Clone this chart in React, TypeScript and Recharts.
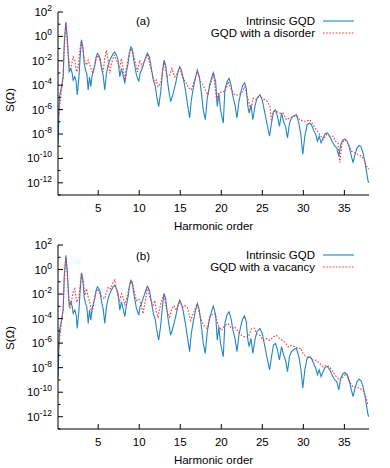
import { LineChart, Line, XAxis, YAxis } from 'recharts';

const harmonicTicks = [5, 10, 15, 20, 25, 30, 35];
const decadeTicks = [-13, -12, -11, -10, -9, -8, -7, -6, -5, -4, -3, -2, -1, 0, 1, 2];

// log10 S(Ω); intrinsic GQD is the same curve in both panels
const intrinsicX = [
  0.12, 0.2, 0.3, 0.53, 0.73, 0.86, 1.06, 1.22, 1.34, 1.46,
  1.67, 1.83, 1.95, 2.15, 2.32, 2.44, 2.64, 2.8, 2.96, 3.13,
  3.29, 3.45, 3.61, 3.78, 3.94, 4.1, 4.26, 4.42, 4.59, 4.75,
  4.91, 5.07, 5.24, 5.4, 5.6, 5.8, 6.0, 6.21, 6.41, 6.61,
  6.82, 7.02, 7.22, 7.42, 7.63, 7.83, 8.03, 8.24, 8.44, 8.64,
  8.8, 8.97, 9.13, 9.37, 9.66, 9.94, 10.1, 10.35, 10.67, 10.99,
  11.24, 11.48, 11.72, 11.97, 12.13, 12.37, 12.62, 12.82, 13.02, 13.22,
  13.43, 13.59, 13.83, 14.03, 14.24, 14.48, 14.72, 14.93, 15.13, 15.37,
  15.62, 15.86, 16.14, 16.35, 16.59, 16.83, 17.08, 17.32, 17.56, 17.8,
  18.05, 18.29, 18.58, 18.86, 19.02, 19.31, 19.51, 19.71, 19.91, 20.24,
  20.44, 20.69, 20.94, 21.18, 21.42, 21.67, 21.91, 22.15, 22.4, 22.64,
  22.84, 23.04, 23.24, 23.4, 23.61, 23.85, 24.09, 24.34, 24.7, 24.99,
  25.31, 25.59, 25.88, 26.12, 26.36, 26.61, 26.85, 27.09, 27.34, 27.58,
  27.82, 28.07, 28.31, 28.55, 28.88, 29.16, 29.45, 29.69, 29.93, 30.18,
  30.46, 30.74, 30.99, 31.23, 31.51, 31.72, 31.92, 32.16, 32.41, 32.65,
  32.94, 33.22, 33.5, 33.83, 34.07, 34.32, 34.56, 34.81, 35.05, 35.33,
  35.62, 35.85, 36.06, 36.3, 36.54, 36.79, 37.03, 37.27, 37.52, 37.72,
  37.88, 38.0,
];
const intrinsicLog = [
  -8.8, -6.5, -4.9, -4.12, -3.3, -0.6, 1.17, -0.05, -1.41, -2.9,
  -2.63, -3.03, -3.58, -3.31, -3.71, -4.8, -3.44, -1.68, -0.27, -0.87,
  -2.22, -2.76, -3.04, -4.39, -3.31, -4.12, -3.17, -2.76, -2.36, -1.68,
  -1.41, -1.54, -1.82, -2.63, -3.17, -4.39, -3.04, -2.36, -1.95, -1.68,
  -1.41, -1.27, -1.54, -1.95, -3.31, -2.63, -3.17, -3.85, -2.9, -2.22,
  -1.41, -0.87, -1.0, -2.09, -3.17, -3.71, -3.04, -2.63, -1.95, -1.36,
  -1.68, -2.63, -3.58, -4.12, -4.93, -5.75, -4.53, -3.04, -1.95, -2.36,
  -3.58, -4.39, -5.34, -4.93, -4.39, -3.71, -2.9, -2.49, -2.76, -3.44,
  -4.39, -5.47, -6.69, -5.2, -4.25, -3.44, -2.76, -3.31, -4.53, -6.02,
  -6.83, -5.07, -3.98, -3.31, -2.98, -3.71, -5.75, -4.66, -6.02, -7.1,
  -4.39, -3.71, -3.44, -3.98, -4.93, -5.61, -6.69, -5.34, -4.53, -3.98,
  -3.79, -4.25, -5.75, -6.29, -5.61, -6.83, -5.75, -5.07, -4.8, -5.2,
  -6.29, -7.24, -8.18, -7.1, -6.15, -6.02, -6.56, -7.37, -6.29, -6.96,
  -7.37, -8.32, -7.1, -6.69, -6.5, -6.42, -7.1, -8.05, -9.67, -8.18,
  -7.24, -7.1, -7.24, -7.64, -8.05, -8.59, -8.18, -8.73, -8.32, -7.97,
  -7.91, -8.18, -8.59, -9.0, -9.13, -9.81, -8.86, -8.51, -8.4, -8.59,
  -9.13, -9.81, -10.35, -9.67, -9.13, -8.94, -9.05, -9.54, -10.35, -11.17,
  -11.84, -12.0,
];

const disorderX = [
  0.12, 0.21, 0.53, 0.73, 0.86, 1.06, 1.22, 1.34, 1.55, 1.75,
  1.95, 2.15, 2.36, 2.56, 2.72, 2.88, 3.09, 3.29, 3.57, 3.78,
  3.98, 4.18, 4.38, 4.59, 4.91, 5.2, 5.4, 5.6, 5.8, 6.0,
  6.21, 6.41, 6.61, 6.94, 7.22, 7.42, 7.63, 7.83, 8.03, 8.24,
  8.44, 8.72, 8.97, 9.21, 9.45, 9.78, 10.06, 10.34, 10.67, 10.99,
  11.4, 11.68, 11.89, 12.09, 12.29, 12.62, 12.82, 13.02, 13.43, 13.71,
  13.99, 14.32, 14.64, 14.93, 15.33, 15.62, 15.94, 16.35, 16.67, 17.08,
  17.48, 17.77, 18.05, 18.37, 18.78, 19.1, 19.23, 19.43, 19.63, 20.04,
  20.44, 20.85, 21.25, 21.66, 22.07, 22.47, 22.88, 23.28, 23.61, 23.89,
  24.3, 24.7, 24.99, 25.31, 25.63, 25.92, 26.12, 26.32, 26.73, 27.13,
  27.54, 27.94, 28.35, 28.76, 29.16, 29.57, 29.97, 30.38, 30.78, 31.19,
  31.59, 32.0, 32.41, 32.81, 33.22, 33.62, 33.91, 34.23, 34.43, 34.72,
  35.12, 35.53, 35.85, 36.26, 36.67, 37.07, 37.39, 37.68, 37.96,
];
const disorderLog = [
  -6.6, -6.29, -4.39, -3.3, -0.87, 1.03, -0.19, -1.41, -2.63, -2.36,
  -1.68, -1.95, -2.9, -2.49, -1.41, -0.46, -0.87, -1.82, -2.36, -1.95,
  -2.36, -2.76, -3.04, -2.22, -1.54, -1.95, -2.49, -2.9, -1.82, -1.14,
  -1.95, -3.04, -2.22, -1.54, -1.95, -2.22, -2.49, -1.82, -2.63, -3.58,
  -2.63, -1.54, -1.0, -1.27, -1.95, -2.9, -1.95, -2.49, -1.95, -1.41,
  -2.63, -3.31, -3.85, -3.58, -4.12, -3.85, -2.9, -2.09, -3.31, -3.17,
  -2.63, -3.31, -3.04, -2.63, -3.44, -3.71, -4.12, -4.39, -3.71, -2.9,
  -3.71, -3.98, -4.39, -4.8, -3.58, -3.17, -4.12, -5.2, -4.66, -4.53,
  -4.53, -3.71, -4.39, -4.8, -4.8, -4.66, -4.12, -5.2, -6.02, -5.07,
  -5.2, -4.8, -5.07, -5.2, -5.34, -5.75, -6.96, -6.15, -6.15, -6.29,
  -6.29, -6.83, -6.69, -6.56, -6.5, -6.83, -6.96, -6.96, -6.83, -7.24,
  -7.64, -8.05, -8.46, -8.05, -8.18, -8.18, -8.59, -8.73, -10.35, -8.73,
  -8.46, -8.86, -9.4, -9.54, -9.67, -9.81, -10.08, -10.62, -10.89,
];

const vacancyX = [
  0.12, 0.21, 0.53, 0.73, 0.86, 1.06, 1.22, 1.34, 1.55, 1.75,
  1.95, 2.15, 2.36, 2.64, 2.8, 2.96, 3.17, 3.37, 3.57, 3.78,
  3.98, 4.18, 4.38, 4.59, 4.91, 5.2, 5.48, 5.8, 6.0, 6.21,
  6.53, 6.82, 7.02, 7.22, 7.42, 7.63, 7.83, 8.03, 8.24, 8.56,
  8.76, 8.97, 9.21, 9.45, 9.66, 9.94, 10.26, 10.47, 10.75, 10.99,
  11.4, 11.68, 11.89, 12.09, 12.29, 12.62, 13.02, 13.31, 13.71, 13.91,
  14.24, 14.52, 14.93, 15.33, 15.53, 15.86, 16.27, 16.55, 17.08, 17.48,
  17.89, 18.29, 18.58, 18.98, 19.23, 19.63, 20.04, 20.44, 20.85, 21.25,
  21.66, 22.07, 22.47, 22.88, 23.28, 23.69, 24.01, 24.3, 24.7, 25.11,
  25.51, 25.92, 26.32, 26.73, 27.13, 27.42, 27.74, 28.15, 28.55, 28.96,
  29.36, 29.69, 29.97, 30.38, 30.78, 31.19, 31.59, 32.0, 32.41, 32.81,
  33.22, 33.62, 34.03, 34.43, 34.84, 35.25, 35.65, 36.06, 36.47, 36.87,
  37.27, 37.56, 37.88,
];
const vacancyLog = [
  -7.0, -6.18, -4.28, -3.2, -0.76, 1.0, -0.22, -1.84, -3.2, -2.52,
  -1.84, -1.57, -2.66, -2.38, -1.3, -0.35, -0.89, -2.11, -1.57, -2.25,
  -2.66, -3.6, -3.06, -2.11, -1.57, -1.98, -2.25, -2.38, -1.84, -1.44,
  -1.57, -1.03, -0.84, -1.57, -2.25, -2.52, -1.98, -2.25, -2.93, -2.11,
  -1.44, -0.98, -1.17, -1.98, -2.52, -2.38, -2.93, -3.6, -2.52, -1.44,
  -2.52, -2.9, -2.52, -3.47, -3.88, -2.79, -1.98, -3.2, -3.88, -3.33,
  -2.93, -3.33, -2.66, -3.06, -2.93, -3.06, -4.15, -3.6, -2.79, -4.01,
  -4.55, -4.82, -3.88, -3.6, -3.6, -4.55, -4.96, -4.55, -4.42, -4.82,
  -4.69, -5.09, -5.37, -5.5, -5.5, -4.82, -4.77, -5.23, -5.37, -5.77,
  -5.64, -5.77, -5.5, -5.37, -5.64, -5.77, -5.91, -6.31, -6.18, -6.31,
  -6.45, -6.4, -6.86, -7.13, -7.13, -7.4, -7.4, -7.67, -7.94, -7.8,
  -7.94, -8.35, -8.75, -9.02, -8.75, -8.48, -9.16, -9.57, -9.57, -9.7,
  -9.84, -10.24, -11.06,
];

const FONT = '"Liberation Sans", Arial, Helvetica, sans-serif';
const BLUE = '#2285c4';
const RED = '#f03a3a';
const W = 390;
const H = 234;
const PLOT_LEFT = 58;
const PLOT_RIGHT = 369;
const X_DOMAIN = [0.1, 38];
const Y_DOMAIN = [-13, 2];

function toPoints(xs: number[], ys: number[]) {
  return xs.map((h, i) => ({ h, s: ys[i] }));
}

const intrinsic = toPoints(intrinsicX, intrinsicLog);
const disorder = toPoints(disorderX, disorderLog);
const vacancy = toPoints(vacancyX, vacancyLog);

// eslint-disable-next-line @typescript-eslint/no-explicit-any
function BottomTick({ x, y, payload }: any) {
  return (
    <g>
      <line x1={x} x2={x} y1={y} y2={y - 5} stroke="#000" />
      <text x={x} y={y + 17} textAnchor="middle" fontSize={11.5} fontFamily={FONT} fill="#000">
        {payload.value}
      </text>
    </g>
  );
}

// eslint-disable-next-line @typescript-eslint/no-explicit-any
function TopTick({ x, y }: any) {
  return <line x1={x} x2={x} y1={y} y2={y + 5} stroke="#000" />;
}

// eslint-disable-next-line @typescript-eslint/no-explicit-any
function LeftTick({ x, y, payload }: any) {
  const n = payload.value as number;
  const major = n % 2 === 0;
  return (
    <g>
      <line x1={x} x2={x + (major ? 5 : 2.5)} y1={y} y2={y} stroke="#000" />
      {major && (
        <text x={x - 6} y={y + 4} textAnchor="end" fontSize={11.5} fontFamily={FONT} fill="#000">
          <tspan>10</tspan>
          <tspan dy={-5} fontSize={8.5}>{n}</tspan>
        </text>
      )}
    </g>
  );
}

// eslint-disable-next-line @typescript-eslint/no-explicit-any
function RightTick({ x, y, payload }: any) {
  const major = (payload.value as number) % 2 === 0;
  return <line x1={x} x2={x - (major ? 5 : 2.5)} y1={y} y2={y} stroke="#000" />;
}

interface PanelProps {
  tag:       string;
  otherName: string;
  other:     { h: number; s: number }[];
  top:       number;
  labelY:    number;
  tagY:      number;
}

function Panel({ tag, otherName, other, top, labelY, tagY }: PanelProps) {
  return (
    <div style={{ position: 'relative', width: W, height: H }}>
      <LineChart width={W} height={H} margin={{ top, right: W - PLOT_RIGHT, bottom: 0, left: 0 }}>
        <XAxis
          xAxisId="b" dataKey="h" type="number" domain={X_DOMAIN} ticks={harmonicTicks}
          allowDataOverflow interval={0} height={39} tickSize={0} tickMargin={0} tickLine={false}
          axisLine={{ stroke: '#000' }} tick={<BottomTick />}
        />
        <XAxis
          xAxisId="t" orientation="top" dataKey="h" type="number" domain={X_DOMAIN} ticks={harmonicTicks}
          allowDataOverflow interval={0} height={0} tickSize={0} tickMargin={0} tickLine={false}
          axisLine={{ stroke: '#000' }} tick={<TopTick />}
        />
        <YAxis
          yAxisId="l" type="number" domain={Y_DOMAIN} ticks={decadeTicks}
          allowDataOverflow interval={0} width={PLOT_LEFT} tickSize={0} tickMargin={0} tickLine={false}
          axisLine={{ stroke: '#000' }} tick={<LeftTick />}
        />
        <YAxis
          yAxisId="r" orientation="right" type="number" domain={Y_DOMAIN} ticks={decadeTicks}
          allowDataOverflow interval={0} width={0} tickSize={0} tickMargin={0} tickLine={false}
          axisLine={{ stroke: '#000' }} tick={<RightTick />}
        />
        <Line
          xAxisId="b" yAxisId="l" data={intrinsic} dataKey="s" type="linear"
          stroke={BLUE} strokeWidth={1.1} dot={false} isAnimationActive={false}
        />
        <Line
          xAxisId="b" yAxisId="l" data={other} dataKey="s" type="linear"
          stroke={RED} strokeWidth={1.1} strokeDasharray="1.6 1.6" dot={false} isAnimationActive={false}
        />
      </LineChart>

      <svg
        width={W} height={H}
        style={{ position: 'absolute', left: 0, top: 0, pointerEvents: 'none' }}
        fontFamily={FONT} fontSize={11.5}
      >
        <text x={143} y={tagY} textAnchor="middle">{tag}</text>

        <text x={315} y={25} textAnchor="end">Intrinsic GQD</text>
        <line x1={323} x2={354} y1={21} y2={21} stroke={BLUE} strokeWidth={1.1} />
        <text x={315} y={37} textAnchor="end">{otherName}</text>
        <line x1={323} x2={354} y1={33} y2={33} stroke={RED} strokeWidth={1.1} strokeDasharray="1.6 1.6" />

        <text x={213.5} y={229.5} textAnchor="middle">Harmonic order</text>
        <text x={14} y={labelY} textAnchor="middle" transform={`rotate(-90 14 ${labelY})`}>S(Ω)</text>
      </svg>
    </div>
  );
}

export default function App() {
  return (
    <div style={{ width: W, height: 468, background: '#fff' }}>
      <style>{'body { margin: 0; }'}</style>
      <Panel tag="(a)" otherName="GQD with a disorder" other={disorder} top={12} labelY={100} tagY={25} />
      <Panel tag="(b)" otherName="GQD with a vacancy" other={vacancy} top={11} labelY={104} tagY={26} />
    </div>
  );
}
